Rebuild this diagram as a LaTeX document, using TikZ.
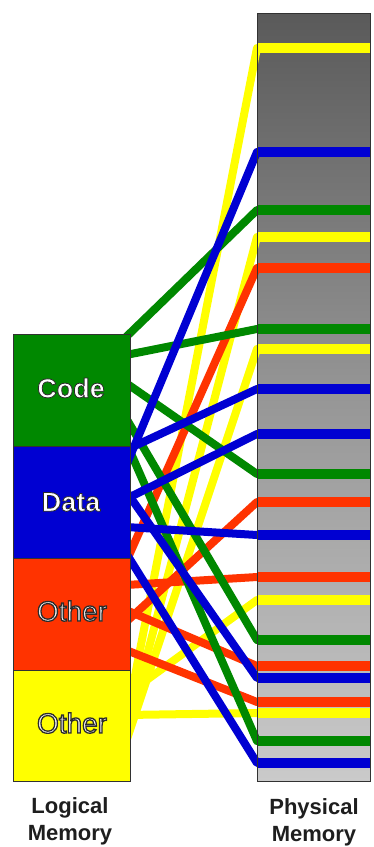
\documentclass[tikz,border=0pt]{standalone}
\usepackage{fontspec}
\setmainfont{Liberation Sans}
\usetikzlibrary{calc}

\definecolor{codegreen}{RGB}{0,136,0}
\definecolor{datablue}{RGB}{0,0,210}
\definecolor{otherred}{RGB}{255,51,0}
\definecolor{otheryellow}{RGB}{255,255,0}
\definecolor{boxedge}{RGB}{50,50,50}
\definecolor{captiontext}{RGB}{30,30,30}
\definecolor{memtop}{RGB}{90,90,90}
\definecolor{memmid}{RGB}{150,150,150}
\definecolor{membot}{RGB}{202,202,202}

% glyphs filled in the current colour and stroked with a dark outline of width #1
\newcommand{\outlined}[2]{%
  \special{pdf:literal direct 2 Tr #1 w 0.17 G}#2\special{pdf:literal direct 0 Tr}}

\begin{document}
\begin{tikzpicture}[x=1pt,y=-1pt,
  link/.style={line width=8pt, line join=round, line cap=butt},
  frame/.style={line width=10pt, line cap=butt},
  segbox/.style={draw=boxedge, line width=0.8pt, minimum width=117pt,
                 minimum height=112pt, inner sep=0pt, anchor=north west},
  physbox/.style={minimum width=113pt, minimum height=768pt, inner sep=0pt,
                  anchor=north west, top color=memtop, bottom color=membot,
                  middle color=memmid},
  segtext/.style={text=white, font=\fontsize{28}{32}\selectfont},
  caption/.style={font=\fontsize{22}{27}\selectfont\bfseries, text=captiontext,
                  align=center}]

\useasboundingbox (0,0) rectangle (373,847);
\fill[white] (0,0) rectangle (373,847);

% physical memory column
\node[physbox] (phys) at (257,13) {};

% frame positions inside physical memory
\foreach \n/\y in {1/48,2/152,3/210,4/237,5/268,6/329,7/349,8/389,9/434,10/474,
                   11/502,12/535,13/577,14/600,15/640,16/666,17/678,18/702,19/713,
                   20/741,21/763}
  {\coordinate (s\n) at (257,\y); \coordinate (s\n e) at (370,\y);}

% page origins on the right side of logical memory
\foreach \nm/\y in {g1/337,g2/355,g3/383,g4/418,g5/442,
                    b1/466,b2/450,b3/499,b4/527,b5/491,b6/553,
                    r1/562,r2/622,r3/585,r4/610,r5/650,
                    y1/722,y2/735,y3/742,y4/695,y5/715}
  {\coordinate (\nm) at (126,\y);}

% page-to-frame mappings: connector plus the occupied frame
\foreach \src/\dst in {y1/1,y2/4,y3/7,y4/14,y5/19}
  {\draw[link, otheryellow] (\src) -- (s\dst) -- (s\dst e);
   \draw[frame, otheryellow] (s\dst) -- (s\dst e);}
\foreach \src/\dst in {r1/5,r2/11,r3/13,r4/16,r5/18}
  {\draw[link, otherred] (\src) -- (s\dst) -- (s\dst e);
   \draw[frame, otherred] (s\dst) -- (s\dst e);}
\foreach \src/\dst in {g1/3,g2/6,g3/10,g4/15,g5/20}
  {\draw[link, codegreen] (\src) -- (s\dst) -- (s\dst e);
   \draw[frame, codegreen] (s\dst) -- (s\dst e);}
\foreach \src/\dst in {b1/2,b2/8,b3/9,b4/12,b5/17,b6/21}
  {\draw[link, datablue] (\src) -- (s\dst) -- (s\dst e);
   \draw[frame, datablue] (s\dst) -- (s\dst e);}

\draw[boxedge, line width=0.8pt] (phys.north west) rectangle (phys.south east);

% logical memory segments
\node[segbox, fill=codegreen] (code) at (13,334) {};
\node[segbox, fill=datablue] (data) at (13,446) {};
\node[segbox, fill=otherred] (other1) at (13,558) {};
\node[segbox, fill=otheryellow, minimum height=111pt] (other2) at (13,670) {};

\node[segtext, font=\fontsize{27}{32}\selectfont\bfseries] (codetxt) at (71,388) {\outlined{0.8}{Code}};
\node[segtext, font=\fontsize{27}{32}\selectfont\bfseries] (datatxt) at (71,502) {\outlined{0.8}{Data}};
\node[segtext] (othertxt1) at (72,611) {\outlined{1.3}{Other}};
\node[segtext] (othertxt2) at (72,723) {\outlined{1.3}{Other}};

% captions
\node[caption] (logcap) at (70,821) {Logical\\Memory};
\node[caption] (physcap) at (314,822) {Physical\\Memory};
\end{tikzpicture}
\end{document}
